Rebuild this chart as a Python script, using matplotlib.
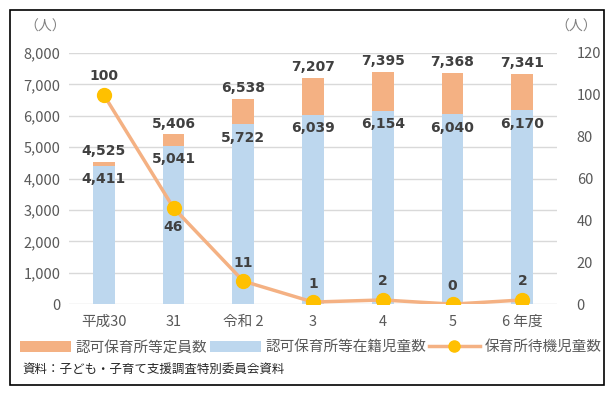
import matplotlib
matplotlib.use('Agg')
import matplotlib.pyplot as plt
import numpy as np
from matplotlib.patches import Rectangle, Patch
from matplotlib.lines import Line2D

plt.rcParams['font.family'] = ['Noto Sans CJK JP', 'DejaVu Sans']

years = ['平成30', '31', '令和 2', '3', '4', '5', '6 年度']
capacity = [4525, 5406, 6538, 7207, 7395, 7368, 7341]
enrolled = [4411, 5041, 5722, 6039, 6154, 6040, 6170]
waiting = [100, 46, 11, 1, 2, 0, 2]

C_CAP = '#F4B183'
C_ENR = '#BDD7EE'
C_LINE = '#F4B183'
C_MARK = '#FFC000'
C_TXT = '#404040'
C_TICK = '#595959'

fig = plt.figure(figsize=(6.15, 3.95), dpi=100)
ax = fig.add_axes([0.112, 0.230, 0.794, 0.636])
ax2 = ax.twinx()

x = np.arange(len(years))
w = 0.31
ax.bar(x, capacity, w, color=C_CAP, zorder=2)
ax.bar(x, enrolled, w, color=C_ENR, zorder=3)

ax.set_ylim(0, 8000)
ax.set_yticks(range(0, 8001, 1000))
ax.set_yticklabels([f'{v:,}' for v in range(0, 8001, 1000)])
ax.set_xlim(-0.5, len(years) - 0.5)
ax.set_xticks(x)
ax.set_xticklabels(years)
ax.grid(axis='y', color='#D9D9D9', linewidth=1.0, zorder=0)
ax.set_axisbelow(True)
for sp in ax.spines.values():
    sp.set_visible(False)
for sp in ax2.spines.values():
    sp.set_visible(False)
ax.tick_params(axis='both', length=0, labelsize=10.5, colors=C_TICK, pad=6)
ax.tick_params(axis='x', pad=8)

for i in x:
    ax.text(i, capacity[i] + 120, f'{capacity[i]:,}', ha='center', va='bottom',
            fontsize=10, fontweight='bold', color=C_TXT, family='DejaVu Sans', zorder=6)
    ax.text(i, enrolled[i] - 420, f'{enrolled[i]:,}', ha='center', va='center',
            fontsize=10, fontweight='bold', color=C_TXT, family='DejaVu Sans', zorder=6)

ax2.plot(x, waiting, color=C_LINE, linewidth=2.5, marker='o', markersize=10,
         markerfacecolor=C_MARK, markeredgecolor=C_MARK, zorder=5)
ax2.set_ylim(0, 120)
ax2.set_yticks(range(0, 121, 20))
ax2.tick_params(axis='y', length=0, labelsize=10.5, colors=C_TICK, pad=14)
ax.set_zorder(ax2.get_zorder() - 1)
ax.patch.set_visible(False)

for i in x:
    if i == 1:
        ax2.text(i, waiting[i] - 6, str(waiting[i]), ha='center', va='top',
                 fontsize=10, fontweight='bold', color=C_TXT, family='DejaVu Sans')
    else:
        ax2.text(i, waiting[i] + 5.5, str(waiting[i]), ha='center', va='bottom',
                 fontsize=10, fontweight='bold', color=C_TXT, family='DejaVu Sans')

fig.text(0.073, 0.932, '（人）', ha='center', va='center', fontsize=10, color='#808080')
fig.text(0.937, 0.932, '（人）', ha='center', va='center', fontsize=10, color='#808080')

handles = [
    Patch(facecolor=C_CAP, label='認可保育所等定員数'),
    Patch(facecolor=C_ENR, label='認可保育所等在籍児童数'),
    Line2D([0], [0], color=C_LINE, linewidth=2.5, marker='o', markersize=8,
           markerfacecolor=C_MARK, markeredgecolor=C_MARK, label='保育所待機児童数'),
]
fig.legend(handles=handles, loc='center', bbox_to_anchor=(0.505, 0.121), ncol=3,
           frameon=False, fontsize=10.5, handlelength=3.5, handleheight=0.8,
           columnspacing=0.2, handletextpad=0.3, labelcolor=C_TICK)

fig.text(0.036, 0.066, '資料：子ども・子育て支援調査特別委員会資料', ha='left', va='center',
         fontsize=9, color='#262626')

fig.patches.append(Rectangle((0.016, 0.025), 0.966, 0.950, transform=fig.transFigure,
                             fill=False, edgecolor='black', linewidth=1.2))

plt.savefig('out.png', dpi=100)
